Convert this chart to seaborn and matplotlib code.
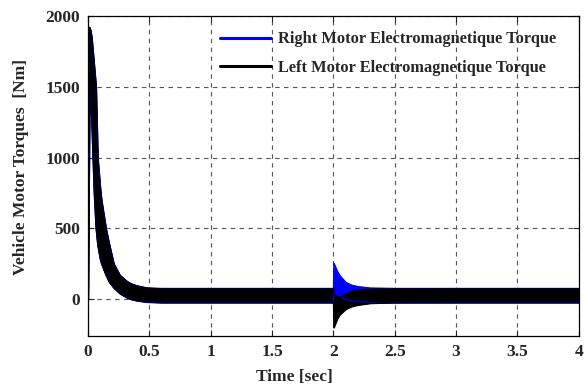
import numpy as np
import pandas as pd
import matplotlib
matplotlib.use("Agg")
import matplotlib.pyplot as plt
from matplotlib.lines import Line2D
import seaborn as sns

# Time axis (s) for envelope samples
t = [0.0, 0.004, 0.012, 0.02, 0.03, 0.04, 0.05, 0.065, 0.079, 0.1, 0.11, 0.146, 0.17, 0.21,
     0.26, 0.32, 0.35, 0.4, 0.48, 0.6, 1.0, 1.5, 1.995,
     2.0, 2.003, 2.03, 2.05, 2.1, 2.15, 2.2, 2.3, 2.5, 3.0, 3.5, 4.0]

# Right motor (blue) envelope of the oscillating torque [Nm]
right_upper = [0, 1600, 1920, 1900, 1850, 1750, 1650, 1500, 1000, 780, 700, 500, 400, 250,
               170, 125, 110, 95, 80, 77, 77, 77, 77,
               77, 255, 200, 170, 120, 100, 90, 80, 77, 77, 77, 77]
right_lower = [0, 500, 1300, 1500, 1250, 1000, 750, 500, 380, 280, 250, 170, 125, 80,
               40, 10, 0, -10, -20, -24, -24, -24, -24,
               -24, 50, 30, 20, 0, -10, -15, -22, -24, -24, -24, -24]

# Left motor (black) envelope of the oscillating torque [Nm]
left_upper = [0, 1600, 1920, 1900, 1850, 1750, 1650, 1500, 1000, 780, 700, 500, 400, 250,
              170, 125, 110, 95, 80, 74, 74, 74, 74,
              74, 40, 20, 15, 35, 55, 65, 72, 74, 74, 74, 74]
left_lower = [0, 500, 1300, 1500, 1250, 1000, 750, 500, 380, 280, 250, 170, 125, 80,
              40, 10, 0, -10, -18, -21, -21, -21, -21,
              -21, -200, -140, -110, -70, -50, -40, -28, -22, -21, -21, -21]

x_ticks = [0, 0.5, 1, 1.5, 2, 2.5, 3, 3.5, 4]
x_tick_labels = ["0", "0.5", "1", "1.5", "2", "2.5", "3", "3.5", "4"]
y_ticks = [0, 500, 1000, 1500, 2000]

series_names = ["Right Motor Electromagnetique Torque", "Left Motor Electromagnetique Torque"]
series_colors = ["#0000ff", "#000000"]

df = pd.DataFrame({"t": t, "ru": right_upper, "rl": right_lower,
                   "lu": left_upper, "ll": left_lower})

sns.set_style("white")
plt.rcParams["font.family"] = ["Liberation Serif", "DejaVu Serif"]
plt.rcParams["font.weight"] = "bold"

fig = plt.figure(figsize=(5.87, 3.89), dpi=100)
ax = fig.add_axes([0.150, 0.136, 0.836, 0.823])

for (up, lo), col in zip([("ru", "rl"), ("lu", "ll")], series_colors):
    ax.fill_between(df["t"], df[lo], df[up], color=col, linewidth=0.8, edgecolor=col)
    sns.lineplot(data=df, x="t", y=up, ax=ax, color=col, linewidth=0.8, legend=False)
    sns.lineplot(data=df, x="t", y=lo, ax=ax, color=col, linewidth=0.8, legend=False)

ax.set_xlim(0, 4)
ax.set_ylim(-260, 2000)
ax.set_xticks(x_ticks)
ax.set_xticklabels(x_tick_labels)
ax.set_yticks(y_ticks)
ax.tick_params(direction="in", length=4, labelsize=12.5, width=0.8, pad=6,
               top=True, right=True, bottom=True, left=True)
for lab in ax.get_xticklabels() + ax.get_yticklabels():
    lab.set_fontweight("bold")

ax.grid(True, color="#555555", linestyle=(0, (4, 4)), linewidth=0.8)
for s in ax.spines.values():
    s.set_color("black")
    s.set_linewidth(0.9)

ax.set_xlabel("Time [sec]", fontsize=12.5, fontweight="bold")
ax.set_ylabel("Vehicle Motor Torques  [Nm]", fontsize=12.5, fontweight="bold")
ax.xaxis.set_label_coords(0.42, -0.103)
ax.yaxis.set_label_coords(-0.121, 0.528)

handles = [Line2D([0], [0], color=c, linewidth=2.2) for c in series_colors]
leg = ax.legend(handles, series_names, loc="upper right", frameon=False,
                prop={"family": "Liberation Serif", "weight": "bold", "size": 11.8},
                handlelength=3.1, handletextpad=0.45, labelspacing=0.75,
                bbox_to_anchor=(0.979, 0.99), borderaxespad=0.35)

fig.savefig("out.png", dpi=100)
